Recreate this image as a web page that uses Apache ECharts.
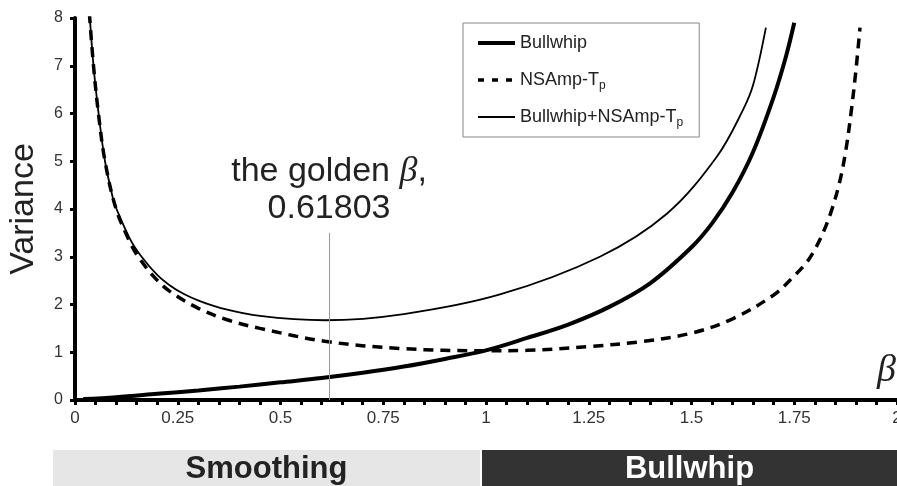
<!DOCTYPE html>
<html>
<head>
<meta charset="utf-8">
<script src="https://cdn.jsdelivr.net/npm/echarts@6/dist/echarts.min.js"></script>
<style>
  html, body { margin: 0; padding: 0; background: #fff; }
  #chart { width: 897px; height: 486px; }
</style>
</head>
<body>
<div id="chart"></div>
<script>
// values
const bullwhipBeta = [0.02, 0.1, 0.2, 0.3, 0.4, 0.5, 0.6, 0.7, 0.8, 0.9, 1.0, 1.1, 1.2, 1.3, 1.4, 1.5, 1.55, 1.6, 1.65, 1.7, 1.73, 1.75];
const bullwhipVar  = [0.02, 0.06, 0.13, 0.2, 0.28, 0.37, 0.46, 0.57, 0.7, 0.86, 1.04, 1.3, 1.58, 1.95, 2.45, 3.2, 3.7, 4.35, 5.2, 6.35, 7.2, 7.9];

const nsampBeta = [0.035, 0.045, 0.057, 0.073, 0.1, 0.134, 0.154, 0.19, 0.23, 0.3, 0.37, 0.45, 0.608, 0.79, 1.0, 1.1, 1.25, 1.375, 1.5, 1.6, 1.7, 1.75, 1.78, 1.8, 1.82, 1.84, 1.86, 1.875, 1.888, 1.9, 1.91];
const nsampVar  = [8.1, 7.0, 6.0, 5.0, 4.0, 3.3, 3.0, 2.6, 2.28, 1.92, 1.68, 1.5, 1.23, 1.08, 1.03, 1.04, 1.12, 1.22, 1.4, 1.7, 2.2, 2.6, 2.88, 3.15, 3.5, 3.95, 4.55, 5.2, 6.0, 6.9, 7.8];

const sumBeta = [0.035, 0.045, 0.057, 0.073, 0.093, 0.101, 0.134, 0.162, 0.2, 0.231, 0.265, 0.304, 0.353, 0.45, 0.608, 0.8, 1.034, 1.277, 1.44, 1.562, 1.625, 1.65, 1.681];
const sumVar  = [8.14, 7.0, 6.03, 5.0, 4.2, 4.0, 3.37, 3.0, 2.62, 2.4, 2.22, 2.07, 1.93, 1.76, 1.67, 1.8, 2.21, 3.0, 3.9, 5.1, 6.07, 6.6, 7.8];

const seriesNames = ['Bullwhip', 'NSAmp-Tp', 'Bullwhip+NSAmp-Tp'];
const goldenBeta = 0.61803;
const goldenLineTop = 3.5;
const regimeSplit = 1;
const regimeNames = ['Smoothing', 'Bullwhip'];

const pairs = (xs, ys) => xs.map((x, i) => [x, ys[i]]);
const sans = '"Liberation Sans", Arial, sans-serif';
const serif = '"Liberation Serif", "DejaVu Serif", serif';

const chart = echarts.init(document.getElementById('chart'));

const baseLine = {
  type: 'line',
  symbol: 'none',
  smooth: 0.35,
  silent: true,
  animation: false
};

chart.setOption({
  backgroundColor: '#fff',
  animation: false,
  grid: { left: 75, right: 0, top: 18, bottom: 86, containLabel: false, outerBoundsMode: 'none' },
  legend: {
    orient: 'vertical',
    left: 463,
    top: 23,
    padding: [8, 16, 8, 13],
    itemWidth: 37,
    itemHeight: 14,
    itemGap: 13,
    borderColor: '#888',
    borderWidth: 1,
    backgroundColor: '#fff',
    selectedMode: false,
    itemStyle: { color: 'transparent', borderWidth: 0, opacity: 0 },
    data: [
      { name: seriesNames[0], lineStyle: { width: 4 } },
      { name: seriesNames[1], lineStyle: { type: [6, 8], width: 3.5 } },
      { name: seriesNames[2], lineStyle: { width: 1.8 } }
    ],
    formatter: name => name.replace(/-Tp$/, '-T{sub|p}'),
    textStyle: {
      fontFamily: sans,
      fontSize: 18,
      color: '#222',
      lineHeight: 24,
      rich: {
        sub: { fontFamily: sans, fontSize: 12, color: '#222', lineHeight: 12, verticalAlign: 'bottom' }
      }
    }
  },
  xAxis: {
    type: 'value',
    min: 0,
    max: 2,
    interval: 0.25,
    axisLine: { lineStyle: { color: '#000', width: 4 } },
    axisTick: { show: true, length: 5, lineStyle: { color: '#000', width: 3 } },
    minorTick: { show: true, splitNumber: 5, length: 5, lineStyle: { color: '#000', width: 3 } },
    splitLine: { show: false },
    axisLabel: { fontFamily: sans, fontSize: 17, color: '#333', margin: 10 }
  },
  yAxis: {
    type: 'value',
    min: 0,
    max: 8,
    interval: 1,
    name: 'Variance',
    nameLocation: 'middle',
    nameRotate: 90,
    nameGap: 34,
    nameTextStyle: { fontFamily: sans, fontSize: 34, color: '#222' },
    axisLine: { show: true, lineStyle: { color: '#000', width: 4 } },
    axisTick: { show: true, length: 5, lineStyle: { color: '#000', width: 3 } },
    splitLine: { show: false },
    axisLabel: { fontFamily: sans, fontSize: 16, color: '#333', margin: 12 }
  },
  series: [
    Object.assign({}, baseLine, {
      name: seriesNames[0],
      data: pairs(bullwhipBeta, bullwhipVar),
      lineStyle: { color: '#000', width: 4 },
      itemStyle: { color: '#000' },
      z: 3
    }),
    Object.assign({}, baseLine, {
      name: seriesNames[1],
      data: pairs(nsampBeta, nsampVar),
      lineStyle: { color: '#000', width: 3.5, type: [10, 7] },
      itemStyle: { color: '#000' },
      z: 2
    }),
    Object.assign({}, baseLine, {
      name: seriesNames[2],
      data: pairs(sumBeta, sumVar),
      lineStyle: { color: '#000', width: 1.8 },
      itemStyle: { color: '#000' },
      z: 4,
      markLine: {
        silent: true,
        symbol: 'none',
        animation: false,
        lineStyle: { color: '#999', width: 1, type: 'solid' },
        label: {
          show: true,
          position: 'end',
          distance: 6,
          formatter: '{a|the golden }{b|β}{a|,}\n{a|0.61803}',
          rich: {
            a: { fontFamily: sans, fontSize: 34, color: '#222', lineHeight: 37 },
            b: { fontFamily: serif, fontStyle: 'italic', fontSize: 36, color: '#222', lineHeight: 37 }
          }
        },
        emphasis: { disabled: true },
        data: [[{ coord: [goldenBeta, 0] }, { coord: [goldenBeta, goldenLineTop] }]]
      }
    })
  ]
});

// regime bands under the axis, split at beta = 1
const splitX = chart.convertToPixel({ xAxisIndex: 0 }, regimeSplit) - 4;
const bandTop = 450, bandH = 36, bandLeft = 53, W = 897;
chart.setOption({
  graphic: [
    { type: 'rect', shape: { x: bandLeft, y: bandTop, width: splitX - 2 - bandLeft, height: bandH }, style: { fill: '#e6e6e6' }, silent: true },
    { type: 'rect', shape: { x: splitX, y: bandTop, width: W - splitX, height: bandH }, style: { fill: '#333' }, silent: true },
    { type: 'text', x: (bandLeft + splitX - 2) / 2, y: bandTop + bandH / 2 + 1,
      style: { text: regimeNames[0], font: 'bold 31px ' + sans, fill: '#222', align: 'center', verticalAlign: 'middle' }, silent: true },
    { type: 'text', x: (splitX + W) / 2, y: bandTop + bandH / 2 + 1,
      style: { text: regimeNames[1], font: 'bold 31px ' + sans, fill: '#fff', align: 'center', verticalAlign: 'middle' }, silent: true },
    { type: 'text', right: 1, top: 352,
      style: { text: 'β', font: 'italic 38px ' + serif, fill: '#222' }, silent: true }
  ]
});
</script>
</body>
</html>
